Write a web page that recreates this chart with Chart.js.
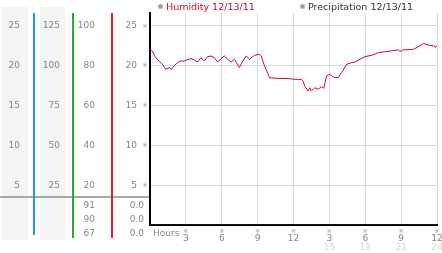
<!DOCTYPE html>
<html><head><meta charset="utf-8">
<script src="https://cdn.jsdelivr.net/npm/chart.js@4"></script>
<style>html,body{margin:0;padding:0;background:#fff;overflow:hidden}</style>
</head><body>
<canvas id="c" width="442" height="253"></canvas>
<script>
// ---- data ----
const hours = [0,0.19,0.48,0.76,1.03,1.32,1.6,1.79,2.02,2.29,2.58,2.86,3.13,3.42,3.7,3.97,4.26,4.54,4.82,5.1,5.38,5.66,5.94,6.22,6.5,6.78,7.06,7.48,7.76,8.04,8.32,8.74,9.16,9.3,9.58,10.0,10.7,11.54,12.1,12.66,12.8,12.94,13.22,13.36,13.5,13.78,14.06,14.34,14.54,14.76,15.04,15.27,15.46,15.74,16.03,16.45,16.87,17.14,17.56,17.98,18.55,19.1,20.08,20.78,20.92,21.2,22.04,22.33,22.88,23.3,23.72,23.87,24.0];
const humidity = [88.3,87.4,84.1,82.4,80.8,78.2,79.1,78.2,79.9,81.6,82.4,82.4,83,83.6,82.9,81.9,84.1,82.4,84.6,84.9,84.1,81.9,83.6,84.9,83.3,81.9,83.3,79.1,82.4,84.9,83.3,85.3,85.8,84.9,79.9,74,73.7,73.6,73.2,73.2,72.4,69.8,67.3,69,67.3,69,68.2,69.5,68.7,74.9,75.7,74.6,74.1,74.1,76.6,80.8,81.6,81.9,83.3,84.6,85.3,86.6,87.4,88,87.2,88,88.3,89.2,91.2,90.3,90,89.2,90.3];
const precipHours = [0,3,6,9,12,15,18,21,24];
const precipitation = [0,0,0,0,0,0,0,0,0];

const seriesLabels = ['Humidity 12/13/11','Precipitation 12/13/11'];
const ticksA = [5,10,15,20,25];
const ticksB = [25,50,75,100,125];
const ticksC = [20,40,60,80,100];
const ticksD = [5,10,15,20,25];
const xTickValues = [3,6,9,12,15,18,21,24];
const xTickLabels = ['3','6','9','12','3','6','9','12'];
const x2TickValues = [15,18,21,24];
const x2TickLabels = ['15','18','21','24'];
const xAxisTitle = 'Hours';
const humidityStats = ['91','90','67'];
const precipStats = ['0.0','0.0','0.0'];

// ---- styles ----
const FONT = "'DejaVu Sans', sans-serif";
const tickFont = {family: FONT, size: 9};
const GRAY = '#858585';
const RED = '#cc0a2a';

function listCb(vals, labels) {
  return function(v) { const i = vals.indexOf(v); return i >= 0 ? (labels ? labels[i] : String(v)) : ''; };
}
function yAxis(weight, width, max, step, vals, pad, main) {
  return {
    type: 'linear', position: 'left', weight: weight, min: 0, max: max,
    afterFit: s => { s.width = width; s.paddingTop = 0; s.paddingBottom = 0; },
    grid: main ? {color: '#dcdcdc', lineWidth: 1, drawTicks: false} : {display: false, drawOnChartArea: false, drawTicks: false},
    border: main ? {display: true, color: '#000', width: 2} : {display: false},
    ticks: {stepSize: step, includeBounds: false, padding: pad, color: GRAY, font: tickFont, autoSkip: false, callback: listCb(vals)}
  };
}

const decor = {
  id: 'decor',
  beforeDraw(chart) {
    const ctx = chart.ctx;
    ctx.save();
    ctx.fillStyle = '#f4f4f4';
    ctx.fillRect(2, 7, 26, 233);
    ctx.fillRect(40, 7, 25, 233);
    ctx.restore();
  },
  afterDraw(chart) {
    const ctx = chart.ctx, s = chart.scales, ca = chart.chartArea;
    ctx.save();
    // separator
    ctx.fillStyle = '#a8a8a8';
    ctx.fillRect(0, 196, ca.left - 1, 2);
    // column rules
    [['yA', '#1f9fd6', 235], ['yB', '#2eaa2e', 238], ['yC', '#d42035', 238]].forEach(([id, col, end]) => {
      ctx.fillStyle = col;
      ctx.fillRect(Math.round(s[id].right), Math.round(ca.top), 2, end - Math.round(ca.top));
    });
    // tick marks
    ctx.fillStyle = '#9a9a9a';
    ctx.font = "6px 'DejaVu Sans', 'Noto Sans CJK JP'";
    ctx.textAlign = 'center'; ctx.textBaseline = 'middle';
    ticksD.forEach(v => ctx.fillText('\u203B', ca.left - 5, s.yD.getPixelForValue(v)));
    xTickValues.forEach(v => ctx.fillText('\u203B', s.x.getPixelForValue(v), ca.bottom + 6));
    // axis title
    ctx.font = '9px ' + FONT;
    ctx.fillStyle = GRAY;
    ctx.textAlign = 'left'; ctx.textBaseline = 'alphabetic';
    ctx.fillText(xAxisTitle, ca.left + 3, ca.bottom + 11);
    // stats
    ctx.textAlign = 'right';
    humidityStats.forEach((t, i) => ctx.fillText(t, s.yC.right - 16, 207.5 + i * 14));
    precipStats.forEach((t, i) => ctx.fillText(t, s.yD.right - 6, 207.5 + i * 14));
    // legend
    const legendX = [158, 300];
    ctx.font = '9.5px ' + FONT;
    chart.data.datasets.forEach((ds, i) => {
      const x = legendX[i];
      ctx.beginPath(); ctx.arc(x + 2.5, 6.5, 2.5, 0, Math.PI * 2);
      ctx.fillStyle = '#9c9c9c'; ctx.fill();
      ctx.strokeStyle = '#d0d0d0'; ctx.lineWidth = 1; ctx.stroke();
      ctx.fillStyle = ds.legendColor; ctx.textAlign = 'left';
      ctx.fillText(ds.label, x + 8, 10);
    });
    ctx.restore();
  }
};

new Chart(document.getElementById('c'), {
  type: 'line',
  data: {
    datasets: [
      {label: seriesLabels[0], legendColor: RED, data: hours.map((h, i) => ({x: h, y: humidity[i]})), yAxisID: 'yC', xAxisID: 'x', borderColor: RED, borderWidth: 1, pointRadius: 0, tension: 0, fill: false},
      {label: seriesLabels[1], legendColor: '#333', data: precipHours.map((h, i) => ({x: h, y: precipitation[i]})), yAxisID: 'yD', xAxisID: 'x', borderColor: '#222', borderWidth: 1, pointRadius: 0, tension: 0, fill: false}
    ]
  },
  options: {
    responsive: false, animation: false, devicePixelRatio: 1,
    layout: {padding: {top: 13, right: 5, left: 0, bottom: 0}},
    plugins: {legend: {display: false}, tooltip: {enabled: false}},
    scales: {
      x: {type: 'linear', position: 'bottom', weight: 0, min: 0, max: 24,
          afterFit: s => { s.height = 17; s.paddingLeft = 0; s.paddingRight = 0; },
          grid: {color: '#dcdcdc', lineWidth: 1, drawTicks: false},
          border: {display: true, color: '#000', width: 2},
          ticks: {stepSize: 3, autoSkip: false, maxRotation: 0, padding: 8, color: GRAY, font: tickFont, callback: listCb(xTickValues, xTickLabels)}},
      x2: {type: 'linear', position: 'bottom', weight: 1, min: 0, max: 24,
          afterFit: s => { s.height = 11; s.paddingLeft = 0; s.paddingRight = 0; },
          grid: {display: false, drawTicks: false}, border: {display: false},
          ticks: {stepSize: 3, autoSkip: false, maxRotation: 0, padding: 0, color: '#d4d4d4', font: tickFont, callback: listCb(x2TickValues, x2TickLabels)}},
      yA: yAxis(4, 33, 26.633, 5, ticksA, 13, false),
      yB: yAxis(3, 39, 133.17, 25, ticksB, 12, false),
      yC: yAxis(2, 39, 106.53, 20, ticksC, 16, false),
      yD: yAxis(1, 39, 26.633, 5, ticksD, 13, true)
    }
  },
  plugins: [decor]
});
</script>
</body></html>
